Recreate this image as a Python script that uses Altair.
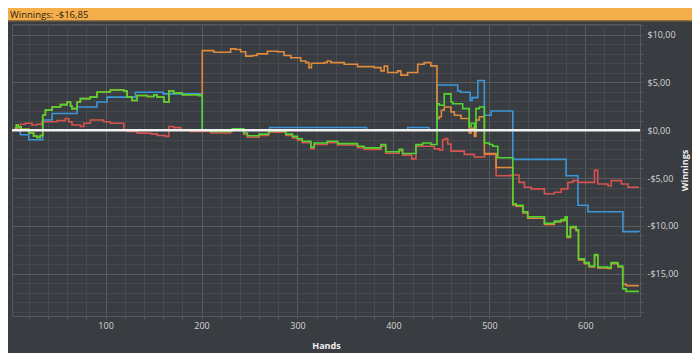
import altair as alt
import pandas as pd

title_text = "Winnings: -$16,85"

green_x = [5, 7, 9, 12, 20, 25, 28.6, 32, 34.5, 37.3,
           44.3, 53, 60, 63.5, 65, 70.4, 73.8, 84, 91, 94.7,
           105, 119, 122.5, 127.6, 133, 143.4, 150.3, 153.8, 160.8, 166,
           171, 180, 197, 200.8, 209.5, 230.4, 232, 244, 247.8, 260,
           270, 287.8, 294.8, 300, 305, 314, 317.4, 331, 341.8, 362.6,
           369.5, 387, 392, 406, 409.6, 423.5, 430.5, 439, 445.4, 447.9,
           453, 460, 461.8, 472.2, 479, 481, 484.4, 486, 489.6, 494.8,
           500, 503.5, 508.8, 524.4, 528, 535, 540, 557.4, 567.8, 574.8,
           579, 581, 584.5, 590.5, 592.9, 599, 604, 609.6, 613, 623.6,
           627, 634, 639, 642.6, 656]
green_y = [0.0, 0.55, 0.35, 0.1, -0.3, -0.6, -0.75, -0.55, 1.57, 2.1,
           2.43, 2.67, 2.95, 2.5, 2.26, 2.95, 3.3, 3.46, 3.97, 4.0,
           4.2, 4.1, 3.46, 3.1, 3.63, 3.53, 3.7, 3.46, 2.95, 4.1,
           3.87, 3.7, 3.63, 0.0, -0.14, 0.03, 0.14, -0.3, -0.58, -0.41,
           -0.07, -0.41, -0.65, -0.89, -1.16, -1.78, -1.34, -1.16, -1.4, -1.68,
           -1.85, -1.51, -2.26, -2.0, -2.43, -1.51, -1.34, -1.5, 2.77, 2.6,
           3.8, 2.95, 2.77, 2.26, 0.38, 0.72, 0.2, 2.26, 2.43, -1.34,
           -1.5, -1.68, -2.88, -7.68, -7.85, -8.53, -9.04, -9.73, -9.5, -9.35,
           -9.05, -11.1, -10.07, -10.4, -13.43, -13.84, -14.2, -13.0, -14.3, -14.35,
           -13.84, -14.2, -16.58, -16.85, -16.85]

# orange coincides with green for the first 200 hands
orange_x = green_x[:33] + [
    200.8, 213, 230.4, 235.6, 240.8, 246, 253, 258, 268.7, 279,
    286, 293, 303.4, 308.7, 312, 314.6, 327.8, 331, 334.8, 348.7,
    362.6, 380, 387, 390.4, 394, 404.4, 407.8, 414.8, 425.3, 432,
    439, 445.4, 447.9, 450, 453, 460, 463.5, 470.4, 479, 481,
    484.4, 486, 489.6, 494.8, 507, 524.4, 528, 535, 540, 557.4,
    567.8, 574.8, 579, 581, 584.5, 590.5, 592.9, 599, 604, 609.6,
    613, 623.6, 627, 634, 639, 642.6, 656]
orange_y = green_y[:33] + [
    8.32, 8.15, 8.5, 8.43, 8.2, 7.74, 7.8, 7.98, 8.25, 8.2,
    7.8, 7.57, 7.23, 7.06, 6.54, 6.99, 7.06, 7.23, 7.06, 6.89,
    6.65, 6.54, 6.2, 6.7, 6.03, 6.2, 5.76, 6.03, 6.89, 7.06,
    6.72, 1.23, 1.4, 2.09, 2.43, 1.92, 1.57, 1.23, -0.3, 0.2,
    -0.65, 1.06, 1.4, -2.45, -3.9, -7.8, -7.95, -8.65, -9.2, -9.85,
    -9.6, -9.45, -9.2, -11.2, -10.2, -10.5, -13.55, -13.95, -14.3, -13.1,
    -14.4, -14.45, -13.95, -14.3, -16.1, -16.25, -16.25]

red_x = [5, 11.2, 16.4, 23.4, 28.6, 33.8, 49.5, 58, 61.6, 65,
         73.8, 77.3, 84.2, 98, 105, 119, 122.5, 133, 147, 153.8,
         162.5, 166, 171, 178.3, 188.6,
         200.8, 209.5, 230.4, 232, 244, 247.8, 260, 270, 287.8, 294.8,
         300, 305, 314, 317.4, 331, 341.8, 362.6, 369.5, 387, 392,
         406, 409.6, 419, 423.5, 430.5, 442.6, 448, 451.3, 453.8, 456.6, 460,
         473.9, 484.4, 495, 507, 522.6, 531, 536.5, 543.5, 557.4, 567.8,
         574.8, 581.8, 587, 592.3, 609.6, 613, 623.6, 627, 637.6, 644.5,
         656]
red_y = [0.2, 0.62, 0.72, 0.55, 0.62, 0.89, 1.0, 1.23, 0.89, 0.55,
         0.38, 0.72, 1.06, 0.89, 0.72, 0.03, -0.14, -0.31, -0.38, -0.55,
         -0.65, 0.38, 0.27, 0.03, -0.14,
         -0.12, -0.29, -0.12, -0.01, -0.45, -0.73, -0.56, -0.22, -0.56, -0.8,
         -1.04, -1.31, -1.93, -1.49, -1.31, -1.55, -1.83, -2.0, -1.66, -2.41,
         -2.15, -2.6, -3.0, -1.66, -1.68, -1.95, -2.1, -1.0, -0.86, -1.44, -2.19,
         -2.53, -2.8, -2.54, -4.76, -4.69, -5.45, -5.96, -6.13, -6.65, -6.48,
         -6.13, -5.45, -5.27, -5.45, -4.2, -5.62, -5.8, -5.27, -5.62, -5.96,
         -5.96]

blue_x = [5, 11.2, 20, 34.5, 44.3, 70.4, 91, 101.6, 131.2, 160,
          200.8, 271, 372, 415, 437, 445.4, 467, 470, 480, 482,
          488, 494.8, 501.8, 524.4, 580, 592.3, 602.7, 639.2, 656]
blue_y = [0, -0.48, -1.0, 1.06, 1.75, 2.43, 2.95, 3.46, 3.97, 3.8,
          0, 0.28, 0, 0.28, 0, 4.73, 4.1, 3.97, 3.1, 3.4,
          5.2, 1.57, 2.0, -3.05, -4.76, -7.85, -8.53, -10.6, -10.65]

x_ticks = list(range(20, 660, 20))
y_ticks = list(range(-19, 12))

BG = "#393c40"
FONT = "Open Sans"
PW, PH = 628, 292

x_enc = alt.X(
    "x:Q",
    scale=alt.Scale(domain=[2.5, 657], nice=False, zero=False),
    axis=alt.Axis(
        values=x_ticks, grid=True,
        gridColor={"condition": {"test": "datum.value % 100 === 0", "value": "#595c60"}, "value": "#46494d"},
        gridWidth=1,
        labelExpr="datum.value % 100 === 0 ? datum.value : ''",
        labelOverlap=False, labelFlush=False, labelBound=False,
        tickSize=3, tickColor="#55585c", domain=False,
        labelColor="#d6d6d6", labelFont=FONT, labelFontSize=9, labelPadding=2,
        title="Hands", titleColor="#f0f0f0", titleFont=FONT, titleFontSize=9,
        titleFontWeight="bold", titleX=PW / 2, titleY=29, titleAlign="center",
        titleBaseline="middle",
    ),
)
y_enc = alt.Y(
    "y:Q",
    scale=alt.Scale(domain=[-19.42, 11.1], nice=False, zero=False),
    axis=alt.Axis(
        orient="right", values=y_ticks, grid=True,
        gridColor={"condition": {"test": "datum.value % 5 === 0", "value": "#595c60"}, "value": "#46494d"},
        gridWidth=1,
        labelExpr="datum.value % 5 === 0 ? (datum.value < 0 ? '-$' : '$') + abs(datum.value) + ',00' : ''",
        labelOverlap=False, labelBound=False, labelFlush=False,
        tickSize=3, tickColor="#55585c", domain=False,
        labelColor="#d6d6d6", labelFont=FONT, labelFontSize=9, labelPadding=4,
        title="Winnings", titleColor="#f0f0f0", titleFont=FONT, titleFontSize=9,
        titleFontWeight="bold", titleAngle=270, titleX=44, titleY=PH / 2,
        titleAlign="center", titleBaseline="middle",
    ),
)


def series(xs, ys, color):
    df = pd.DataFrame({"x": xs, "y": ys})
    return alt.Chart(df).mark_line(
        interpolate="step-after", color=color, strokeWidth=1.6, clip=True
    ).encode(x=x_enc, y=y_enc)


blue = series(blue_x, blue_y, "#3b97d9")
red = series(red_x, red_y, "#d6534f")
orange = series(orange_x, orange_y, "#e08b3c")
green = series(green_x, green_y, "#52d62f")

zero = alt.Chart(pd.DataFrame({"y": [0]})).mark_rule(
    color="#f2f2f2", strokeWidth=2.5
).encode(y=y_enc)

hdr = alt.Data(values=[{"t": title_text}])
bar = alt.Chart(hdr).mark_rect(color="#f5ae4a").encode(
    x=alt.value(-4), x2=alt.value(680), y=alt.value(-16), y2=alt.value(-3.4)
)
bar_edge = alt.Chart(hdr).mark_rule(color="#8a6a3c", strokeWidth=1).encode(
    x=alt.value(-4), x2=alt.value(680), y=alt.value(-3.0)
)
bar_text = alt.Chart(hdr).mark_text(
    align="left", baseline="middle", font=FONT, fontSize=9.5, color="#2a2214"
).encode(x=alt.value(-2), y=alt.value(-9.2), text="t:N")

chart = alt.layer(blue, red, orange, green, zero, bar, bar_edge, bar_text).properties(
    width=PW, height=PH,
    padding={"left": 4, "top": 16, "right": 52, "bottom": 37},
    autosize=alt.AutoSizeParams(type="none"),
    background=BG,
).configure_view(stroke="#55585c", strokeWidth=1)

chart.save("out.html", embed_options={"renderer": "svg", "actions": False})
